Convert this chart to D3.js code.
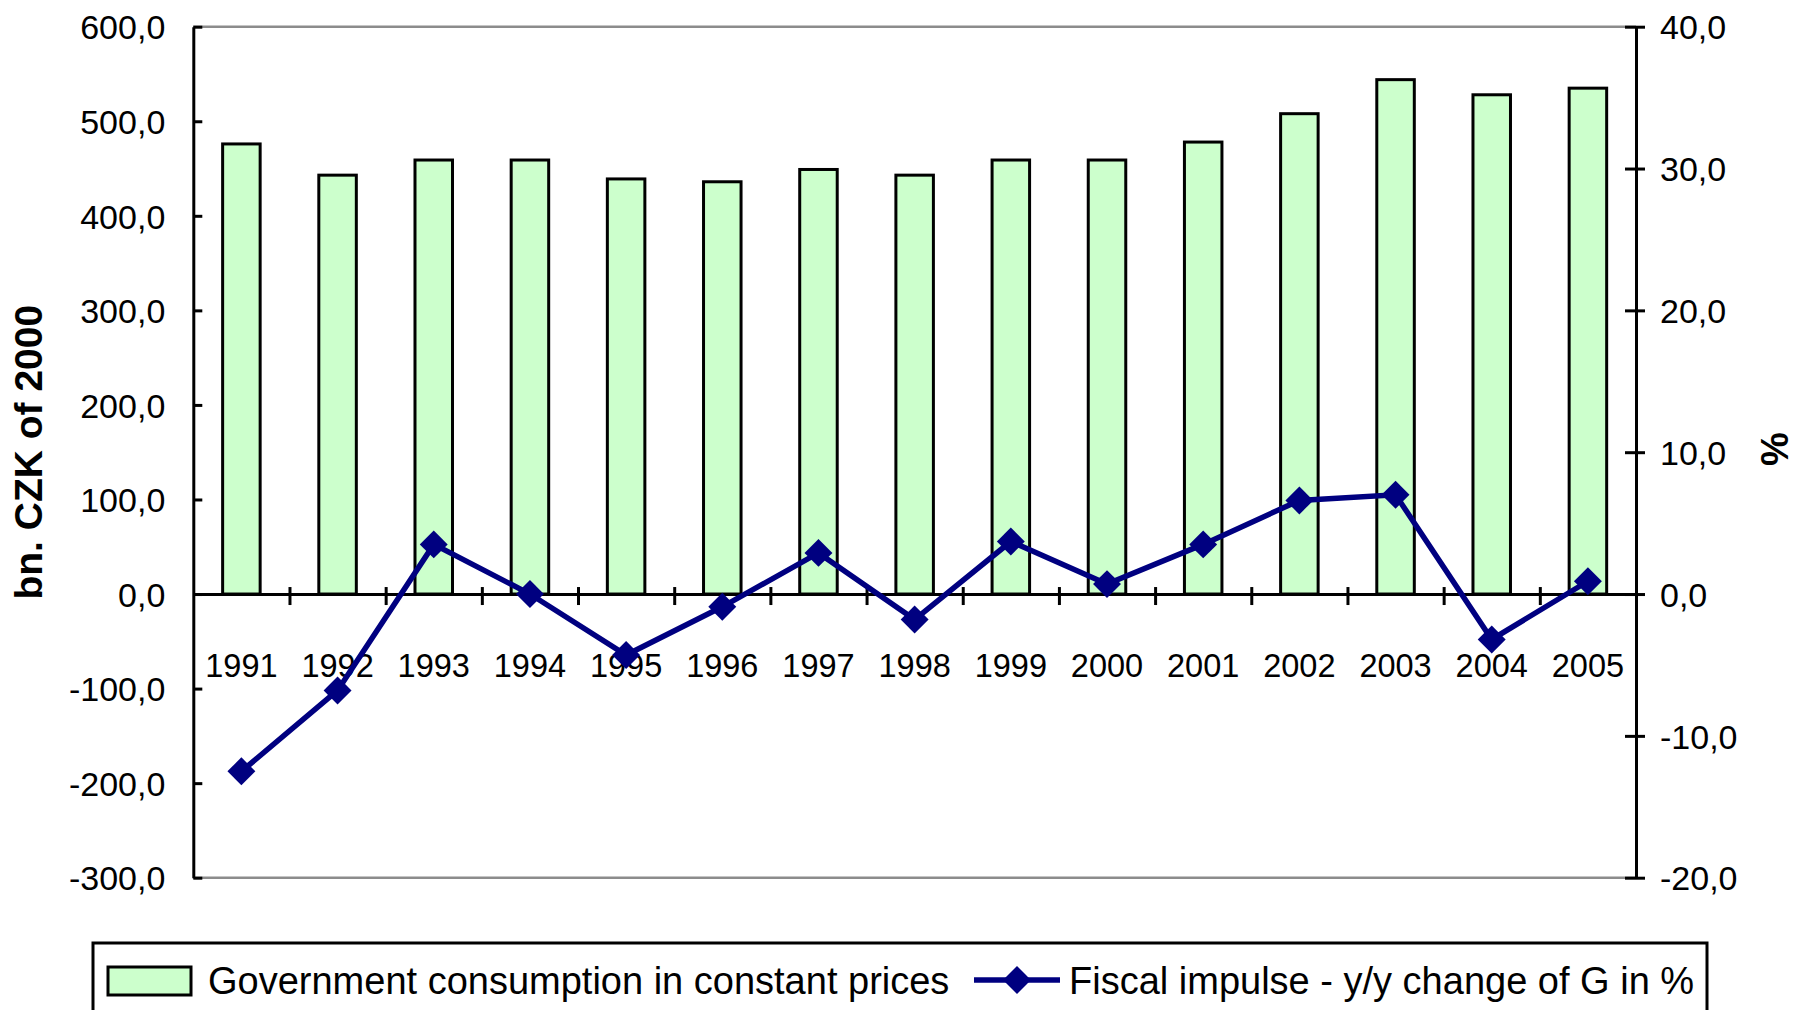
<!DOCTYPE html>
<html lang="en">
<head>
<meta charset="UTF-8">
<title>Government consumption and fiscal impulse</title>
<style>
    body { margin: 0; background: #fff; }
    svg text { font-family: "Liberation Sans", Arial, sans-serif; fill: #000; }
</style>
</head>
<body>
<script src="https://cdn.jsdelivr.net/npm/d3@7/dist/d3.min.js"></script>
<script>
    // data
    const years = ['1991', '1992', '1993', '1994', '1995', '1996', '1997', '1998',
        '1999', '2000', '2001', '2002', '2003', '2004', '2005'];
    const govCons = [476, 443, 459, 459, 439, 436, 449, 443, 459, 459, 478, 508, 544, 528, 535];
    const impulse = [-12.5, -6.8, 3.5, 0.0, -4.3, -0.9, 2.9, -1.8, 3.7, 0.7, 3.5, 6.6, 7.0, -3.2, 0.9];
    const leftTicks = [-300, -200, -100, 0, 100, 200, 300, 400, 500, 600];
    const rightTicks = [-20, -10, 0, 10, 20, 30, 40];
    const seriesNames = ['Government consumption in constant prices', 'Fiscal impulse - y/y change of G in %'];

    const W = 1797, H = 1010;
    const m = { l: 193.3, r: 1636, t: 26.7, b: 877.7 };

    const svg = d3.select('body').append('svg')
        .attr('width', W)
        .attr('height', H);

    const x = d3.scaleBand().domain(years).range([m.l, m.r]).padding(0);
    const xi = d3.scaleLinear().domain([0, years.length]).range([m.l, m.r]);
    const yL = d3.scaleLinear().domain([-300, 600]).range([m.b, m.t]);
    const yR = d3.scaleLinear().domain([-20, 40]).range([m.b, m.t]);
    const fmt = v => d3.format('.1f')(v).replace('.', ',').replace('−', '-');

    // grey frame lines top and bottom
    svg.append('g').selectAll('line')
        .data([m.t, m.b])
        .enter().append('line')
        .attr('x1', m.l).attr('x2', m.r)
        .attr('y1', d => d).attr('y2', d => d)
        .attr('stroke', '#8c8c8c')
        .attr('stroke-width', 2.5);

    // bars
    const bw = x.bandwidth() * 0.39;
    svg.append('g').selectAll('rect')
        .data(govCons)
        .enter().append('rect')
        .attr('x', (d, i) => x(years[i]) + x.bandwidth() / 2 - bw / 2)
        .attr('y', d => yL(d))
        .attr('width', bw)
        .attr('height', d => yL(0) - yL(d))
        .attr('fill', '#ccffcc')
        .attr('stroke', '#000')
        .attr('stroke-width', 3);

    // left axis
    const gL = svg.append('g')
        .attr('transform', `translate(${m.l},0)`)
        .call(d3.axisLeft(yL).tickValues(leftTicks).tickFormat(fmt).tickSizeInner(9).tickSizeOuter(0).tickPadding(19));
    gL.selectAll('.tick line').attr('x2', 9);

    // right axis
    const gR = svg.append('g')
        .attr('transform', `translate(${m.r},0)`)
        .call(d3.axisRight(yR).tickValues(rightTicks).tickFormat(fmt).tickSizeInner(9).tickSizeOuter(0).tickPadding(15));
    gR.selectAll('.tick line').attr('x2', 9).attr('x1', -11);

    [gL, gR].forEach(g => {
        g.select('.domain').attr('stroke', '#000').attr('stroke-width', 3);
        g.selectAll('.tick line').attr('stroke', '#000').attr('stroke-width', 3);
        g.selectAll('.tick text')
            .style('font-size', '34px')
            .attr('dy', '0.36em');
    });

    // category axis on the zero line
    const gX = svg.append('g')
        .attr('transform', `translate(0,${yL(0)})`)
        .call(d3.axisBottom(xi).tickValues(d3.range(1, years.length)).tickFormat('').tickSizeInner(11).tickSizeOuter(0));
    gX.select('.domain').attr('stroke', '#000').attr('stroke-width', 3);
    gX.selectAll('.tick line').attr('y1', -7).attr('stroke', '#000').attr('stroke-width', 3);

    const gXl = svg.append('g')
        .attr('transform', `translate(0,${yL(0)})`)
        .call(d3.axisBottom(x).tickSize(0).tickPadding(60));
    gXl.select('.domain').remove();
    gXl.selectAll('.tick text').style('font-size', '32.5px');

    // fiscal impulse line
    const cx = (d, i) => x(years[i]) + x.bandwidth() / 2;
    svg.append('path')
        .datum(impulse)
        .attr('d', d3.line().x(cx).y(d => yR(d)))
        .attr('fill', 'none')
        .attr('stroke', '#000080')
        .attr('stroke-width', 5.5);

    const diamond = d3.symbol(d3.symbolSquare, 390);
    svg.append('g').selectAll('path')
        .data(impulse)
        .enter().append('path')
        .attr('d', diamond)
        .attr('transform', (d, i) => `translate(${cx(d, i)},${yR(d)}) rotate(45)`)
        .attr('fill', '#000080');

    // axis titles
    svg.append('text')
        .attr('transform', `translate(41.5,${(m.t + m.b) / 2}) rotate(-90)`)
        .attr('text-anchor', 'middle')
        .style('font-size', '39px')
        .style('font-weight', 'bold')
        .text('bn. CZK of 2000');

    svg.append('text')
        .attr('transform', `translate(1788,449) rotate(-90)`)
        .attr('text-anchor', 'middle')
        .style('font-size', '38px')
        .style('font-weight', 'bold')
        .text('%');

    // legend
    const lg = svg.append('g');
    lg.append('rect')
        .attr('x', 93).attr('y', 943)
        .attr('width', 1614).attr('height', 100)
        .attr('fill', '#fff')
        .attr('stroke', '#000')
        .attr('stroke-width', 3);
    lg.append('rect')
        .attr('x', 108).attr('y', 967)
        .attr('width', 83).attr('height', 28)
        .attr('fill', '#ccffcc')
        .attr('stroke', '#000')
        .attr('stroke-width', 3);
    lg.append('text')
        .attr('x', 208).attr('y', 994)
        .style('font-size', '38px')
        .text(seriesNames[0]);
    lg.append('line')
        .attr('x1', 974).attr('x2', 1060)
        .attr('y1', 980).attr('y2', 980)
        .attr('stroke', '#000080')
        .attr('stroke-width', 5.5);
    lg.append('path')
        .attr('d', diamond)
        .attr('transform', 'translate(1017,980) rotate(45)')
        .attr('fill', '#000080');
    lg.append('text')
        .attr('x', 1069).attr('y', 994)
        .style('font-size', '38px')
        .text(seriesNames[1]);
</script>
</body>
</html>
